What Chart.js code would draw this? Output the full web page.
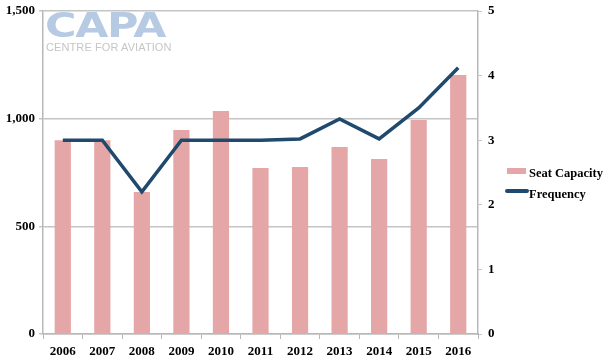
<!DOCTYPE html>
<html>
<head>
<meta charset="utf-8">
<script src="https://cdn.jsdelivr.net/npm/chart.js@4"></script>
<style>
  html, body { margin: 0; padding: 0; background: #fff; }
  #wrap { position: relative; width: 606px; height: 363px; }
  #logo1 { position: absolute; left: 45px; top: 7px; font: bold 33px "DejaVu Sans", sans-serif; color: #b6cbe3; transform: scaleX(1.3); transform-origin: left top; letter-spacing: -1px; line-height: 38px; }
  #logo2 { position: absolute; left: 46px; top: 40px; font: 11px "Liberation Sans", Arial, sans-serif; color: #c6c6c6; line-height: 14px; letter-spacing: 0.1px; }
</style>
</head>
<body>
<div id="wrap">
  <canvas id="c" width="606" height="363"></canvas>
  <div id="logo1">CAPA</div>
  <div id="logo2">CENTRE FOR AVIATION</div>
</div>
<script>
const years = ['2006','2007','2008','2009','2010','2011','2012','2013','2014','2015','2016'];
const seatCapacity = [900, 900, 660, 947, 1036, 771, 776, 868, 813, 994, 1203];
const frequency = [3.0, 3.0, 2.2, 3.0, 3.0, 3.0, 3.02, 3.33, 3.02, 3.5, 4.12];
const leftTicks = [0, 500, 1000, 1500];
const rightTicks = [0, 1, 2, 3, 4, 5];
const seriesNames = ['Seat Capacity', 'Frequency'];

const BAR = '#e5a6a7';
const LINE = '#1f4a6e';
const tickFont = { family: '"Liberation Serif", "Times New Roman", serif', weight: 'bold', size: 13 };

const legendPlugin = {
  id: 'customLegend',
  afterDraw(chart) {
    const ctx = chart.ctx;
    const bar = chart.data.datasets.find(d => d.type === 'bar');
    const line = chart.data.datasets.find(d => d.type === 'line');
    ctx.save();
    ctx.font = 'bold 12.5px "Liberation Serif", serif';
    ctx.textBaseline = 'middle';
    ctx.fillStyle = bar.backgroundColor;
    ctx.fillRect(507, 168, 19, 6);
    ctx.fillStyle = '#000';
    ctx.fillText(bar.label, 529, 174);
    ctx.strokeStyle = line.borderColor;
    ctx.lineWidth = 4;
    ctx.lineCap = 'round';
    ctx.beginPath();
    ctx.moveTo(507, 191);
    ctx.lineTo(527, 191);
    ctx.stroke();
    ctx.fillText(line.label, 529, 195);
    ctx.restore();
  }
};

function fixV(w) {
  return s => { s.width = w; s.paddingTop = 0; s.paddingBottom = 0; };
}

new Chart(document.getElementById('c'), {
  data: {
    labels: years,
    datasets: [
      {
        type: 'line',
        label: seriesNames[1],
        data: frequency,
        yAxisID: 'y1',
        borderColor: LINE,
        backgroundColor: LINE,
        borderWidth: 3.5,
        pointRadius: 0,
        tension: 0,
        order: 0
      },
      {
        type: 'bar',
        label: seriesNames[0],
        data: seatCapacity,
        yAxisID: 'y',
        backgroundColor: BAR,
        barPercentage: 0.41,
        categoryPercentage: 1.0,
        order: 1
      }
    ]
  },
  options: {
    responsive: false,
    animation: false,
    layout: { padding: { left: 0, right: 108, top: 11, bottom: 0 } },
    plugins: { legend: { display: false }, tooltip: { enabled: false } },
    scales: {
      x: {
        offset: true,
        grid: { display: true, drawOnChartArea: false, drawTicks: true, tickLength: 5, color: '#b8b8b8', offset: true },
        border: { color: '#b8b8b8', width: 1.5 },
        ticks: { color: '#000', font: tickFont, padding: 5, maxRotation: 0 },
        afterFit(s) { s.height = 29; s.paddingLeft = 0; s.paddingRight = 0; }
      },
      y: {
        position: 'left',
        min: 0, max: 1500,
        afterBuildTicks(s) { s.ticks = leftTicks.map(v => ({ value: v })); },
        grid: { color: '#c4c4c4', lineWidth: 1.5, tickLength: 4 },
        border: { color: '#b8b8b8', width: 1.5 },
        ticks: { color: '#000', font: tickFont, padding: 4, callback: v => v.toLocaleString('en-US') },
        afterFit: fixV(43)
      },
      y1: {
        position: 'right',
        min: 0, max: 5,
        afterBuildTicks(s) { s.ticks = rightTicks.map(v => ({ value: v })); },
        grid: { drawOnChartArea: false, color: '#c4c4c4', tickLength: 4 },
        border: { color: '#b8b8b8', width: 1.5 },
        ticks: { color: '#000', font: tickFont, padding: 6 },
        afterFit: fixV(20)
      }
    }
  },
  plugins: [legendPlugin]
});
</script>
</body>
</html>
